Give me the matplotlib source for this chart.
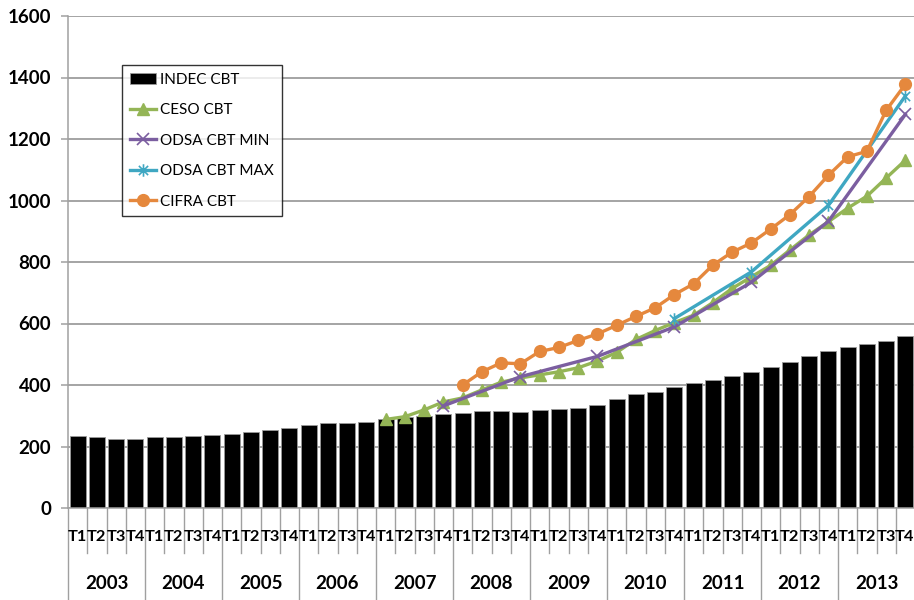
import numpy as np
import matplotlib
matplotlib.use("Agg")
import matplotlib.pyplot as plt
from matplotlib.path import Path
from matplotlib.transforms import blended_transform_factory

plt.rcParams['font.family'] = ['Lato', 'DejaVu Sans']

years = ["2003", "2004", "2005", "2006", "2007", "2008",
         "2009", "2010", "2011", "2012", "2013"]
quarters = ["T1", "T2", "T3", "T4"]

indec_cbt = [234, 231, 224, 224,
             231, 231, 234, 237,
             242, 247, 253, 260,
             271, 276, 276, 280,
             291, 295, 299, 306,
             309, 315, 315, 312,
             319, 322, 325, 335,
             355, 371, 377, 394,
             407, 417, 430, 443,
             460, 476, 493, 512,
             524, 532, 542, 560]

nan = np.nan
ceso_cbt = [nan] * 16 + [288, 297, 319, 345,
                         358, 384, 409, 423,
                         433, 443, 456, 478,
                         506, 548, 577, 603,
                         627, 668, 714, 752,
                         789, 839, 888, 931,
                         975, 1014, 1073, 1131]

odsa_min = [nan] * 19 + [332,
                         nan, nan, nan, 427,
                         nan, nan, nan, 493,
                         nan, nan, nan, 589,
                         nan, nan, nan, 734,
                         nan, nan, nan, 932,
                         nan, nan, nan, 1280]

odsa_max = [nan] * 31 + [616,
                         nan, nan, nan, 768,
                         nan, nan, nan, 984,
                         nan, nan, nan, 1340]

cifra_cbt = [nan] * 20 + [400, 443, 472, 469,
                          509, 522, 545, 566,
                          594, 623, 651, 694,
                          729, 790, 832, 862,
                          907, 954, 1013, 1082,
                          1142, 1160, 1293, 1378]

C_GREEN = "#94B556"
C_PURPLE = "#7B5EA0"
C_BLUE = "#3FA7C2"
C_ORANGE = "#E5883D"
C_GRID = "#8C8C8C"

n = len(indec_cbt)
x = np.arange(n)

fig = plt.figure(figsize=(9.14, 6.0), dpi=100)
ax = fig.add_axes([68 / 914, 92 / 600, 847 / 914, 492 / 600])

bars = ax.bar(x, indec_cbt, width=0.84, color="black", edgecolor="#9a9a9a",
              linewidth=0.6, zorder=2, label="INDEC CBT")


def plot_series(vals, **kw):
    v = np.asarray(vals, dtype=float)
    m = ~np.isnan(v)
    return ax.plot(x[m], v[m], zorder=3, clip_on=False, **kw)[0]


star = Path([(-1, -1), (1, 1), (-1, 1), (1, -1), (0, -1.35), (0, 1.35)],
            [Path.MOVETO, Path.LINETO, Path.MOVETO, Path.LINETO,
             Path.MOVETO, Path.LINETO])

l_ceso = plot_series(ceso_cbt, color=C_GREEN, lw=2.4, marker="^", ms=8,
                     mec=C_GREEN, mfc=C_GREEN, label="CESO CBT")
l_min = plot_series(odsa_min, color=C_PURPLE, lw=2.4, marker="x", ms=8,
                    mew=1.2, label="ODSA CBT MIN")
l_max = plot_series(odsa_max, color=C_BLUE, lw=2.4, marker=star, ms=9,
                    mew=1.2, label="ODSA CBT MAX")
l_cifra = plot_series(cifra_cbt, color=C_ORANGE, lw=2.4, marker="o", ms=8.5,
                      label="CIFRA CBT")

ax.set_xlim(-0.5, n - 0.5)
ax.set_ylim(0, 1600)
ax.set_yticks(np.arange(0, 1601, 200))
ax.yaxis.grid(True, color=C_GRID, lw=1.1, zorder=0)
ax.set_axisbelow(True)
for s in ["top", "right", "bottom"]:
    ax.spines[s].set_visible(False)
ax.spines["left"].set_color("#a0a0a0")
ax.spines["left"].set_linewidth(1.1)
ax.tick_params(axis="y", length=5, color="#a0a0a0", width=1.1, pad=7,
               labelsize=13.5)
for lab in ax.get_yticklabels():
    lab.set_fontweight("bold")
ax.set_xticks([])

# category axis: baseline, quarter ticks, year separators and labels
trans = blended_transform_factory(ax.transData, ax.transAxes)
ax.plot([-0.5, n - 0.5], [0, 0], transform=trans, color="#a0a0a0",
        lw=1.1, clip_on=False, zorder=4)
for i in range(n + 1):
    xe = i - 0.5
    if i % 4 == 0:
        ax.plot([xe, xe], [0, -0.19], transform=trans, color="#a0a0a0",
                lw=1.0, clip_on=False)
    else:
        ax.plot([xe, xe], [0, -0.092], transform=trans, color="#a0a0a0",
                lw=1.0, clip_on=False)
for i in range(n):
    ax.text(min(i, n - 1.05), -0.059, quarters[i % 4], transform=trans,
            ha="center", va="center", fontsize=11.8, fontweight="bold")
for k, yr in enumerate(years):
    ax.text(4 * k + 1.5, -0.153, yr, transform=trans, ha="center",
            va="center", fontsize=13.5, fontweight="bold")

handles = [bars, l_ceso, l_min, l_max, l_cifra]
labels = ["INDEC CBT", "CESO CBT", "ODSA CBT MIN", "ODSA CBT MAX", "CIFRA CBT"]
leg = fig.legend(handles, labels, loc="upper left",
                 bbox_to_anchor=(122 / 914, 1 - 65 / 600),
                 bbox_transform=fig.transFigure, frameon=True, fancybox=False,
                 edgecolor="black", borderaxespad=0, fontsize=11.0,
                 handlelength=1.75, handletextpad=0.25, labelspacing=1.08,
                 borderpad=0.5)
leg.get_frame().set_linewidth(1.0)

fig.savefig("out.png", dpi=100)
